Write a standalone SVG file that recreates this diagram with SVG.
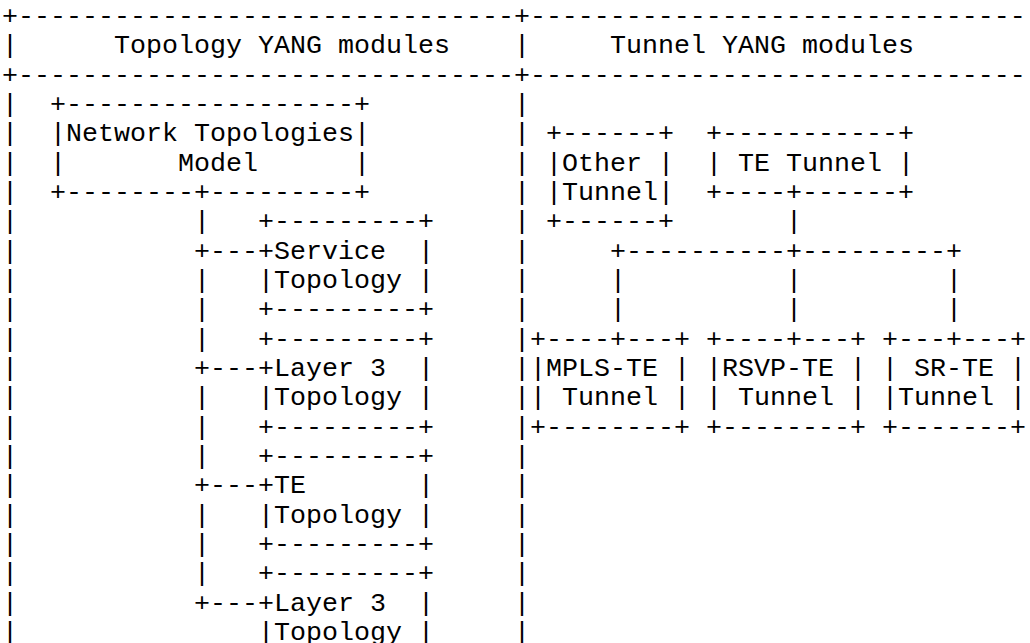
<svg xmlns="http://www.w3.org/2000/svg" width="1030" height="643" viewBox="0 0 1030 643" xml:space="preserve">
<style>
text{font-family:"Liberation Mono","Courier New",monospace;font-size:26.664px;fill:#000;white-space:pre;}
</style>
<rect x="0" y="0" width="1030" height="643" fill="#fff"/>
<g id="frame">
<text x="2" y="24">+-------------------------------+-------------------------------</text>
<text x="2" y="53.33">|</text>
<text x="514" y="53.33">|</text>
<text x="114" y="53.33">Topology YANG modules</text>
<text x="610" y="53.33">Tunnel YANG modules</text>
<text x="2" y="82.67">+-------------------------------+-------------------------------</text>
<text><tspan x="2" y="112">|</tspan><tspan x="2" y="141.33">|</tspan><tspan x="2" y="170.67">|</tspan><tspan x="2" y="200">|</tspan><tspan x="2" y="229.33">|</tspan><tspan x="2" y="258.67">|</tspan><tspan x="2" y="288">|</tspan><tspan x="2" y="317.33">|</tspan><tspan x="2" y="346.67">|</tspan><tspan x="2" y="376">|</tspan><tspan x="2" y="405.33">|</tspan><tspan x="2" y="434.67">|</tspan><tspan x="2" y="464">|</tspan><tspan x="2" y="493.33">|</tspan><tspan x="2" y="522.67">|</tspan><tspan x="2" y="552">|</tspan><tspan x="2" y="581.33">|</tspan><tspan x="2" y="610.67">|</tspan><tspan x="2" y="640">|</tspan></text>
<text><tspan x="514" y="112">|</tspan><tspan x="514" y="141.33">|</tspan><tspan x="514" y="170.67">|</tspan><tspan x="514" y="200">|</tspan><tspan x="514" y="229.33">|</tspan><tspan x="514" y="258.67">|</tspan><tspan x="514" y="288">|</tspan><tspan x="514" y="317.33">|</tspan><tspan x="514" y="346.67">|</tspan><tspan x="514" y="376">|</tspan><tspan x="514" y="405.33">|</tspan><tspan x="514" y="434.67">|</tspan><tspan x="514" y="464">|</tspan><tspan x="514" y="493.33">|</tspan><tspan x="514" y="522.67">|</tspan><tspan x="514" y="552">|</tspan><tspan x="514" y="581.33">|</tspan><tspan x="514" y="610.67">|</tspan><tspan x="514" y="640">|</tspan></text>
</g>
<g id="connectors">
<text><tspan x="194" y="229.33">|</tspan><tspan x="194" y="258.67">+---</tspan><tspan x="194" y="288">|</tspan><tspan x="194" y="317.33">|</tspan><tspan x="194" y="346.67">|</tspan><tspan x="194" y="376">+---</tspan><tspan x="194" y="405.33">|</tspan><tspan x="194" y="434.67">|</tspan><tspan x="194" y="464">|</tspan><tspan x="194" y="493.33">+---</tspan><tspan x="194" y="522.67">|</tspan><tspan x="194" y="552">|</tspan><tspan x="194" y="581.33">|</tspan><tspan x="194" y="610.67">+---</tspan></text>
<text><tspan x="786" y="229.33">|</tspan><tspan x="610" y="258.67">+----------+---------+</tspan><tspan x="610" y="288">|</tspan><tspan x="786" y="288">|</tspan><tspan x="946" y="288">|</tspan><tspan x="610" y="317.33">|</tspan><tspan x="786" y="317.33">|</tspan><tspan x="946" y="317.33">|</tspan></text>
</g>
<g id="node-network-topologies">
<text x="50" y="112">+------------------+</text>
<text x="50" y="141.33">|Network Topologies|</text>
<text x="50" y="170.67">|       Model      |</text>
<text x="50" y="200">+--------+---------+</text>
</g>
<g id="node-service-topology">
<text x="258" y="229.33">+---------+</text>
<text x="258" y="258.67">+Service  |</text>
<text x="258" y="288">|Topology |</text>
<text x="258" y="317.33">+---------+</text>
</g>
<g id="node-layer3-topology-1">
<text x="258" y="346.67">+---------+</text>
<text x="258" y="376">+Layer 3  |</text>
<text x="258" y="405.33">|Topology |</text>
<text x="258" y="434.67">+---------+</text>
</g>
<g id="node-te-topology">
<text x="258" y="464">+---------+</text>
<text x="258" y="493.33">+TE       |</text>
<text x="258" y="522.67">|Topology |</text>
<text x="258" y="552">+---------+</text>
</g>
<g id="node-layer3-topology-2">
<text x="258" y="581.33">+---------+</text>
<text x="258" y="610.67">+Layer 3  |</text>
<text x="258" y="640">|Topology |</text>
</g>
<g id="node-other-tunnel">
<text x="546" y="141.33">+------+</text>
<text x="546" y="170.67">|Other |</text>
<text x="546" y="200">|Tunnel|</text>
<text x="546" y="229.33">+------+</text>
</g>
<g id="node-te-tunnel">
<text x="706" y="141.33">+-----------+</text>
<text x="706" y="170.67">| TE Tunnel |</text>
<text x="706" y="200">+----+------+</text>
</g>
<g id="node-mpls-te-tunnel">
<text x="530" y="346.67">+----+---+</text>
<text x="530" y="376">|MPLS-TE |</text>
<text x="530" y="405.33">| Tunnel |</text>
<text x="530" y="434.67">+--------+</text>
</g>
<g id="node-rsvp-te-tunnel">
<text x="706" y="346.67">+----+---+</text>
<text x="706" y="376">|RSVP-TE |</text>
<text x="706" y="405.33">| Tunnel |</text>
<text x="706" y="434.67">+--------+</text>
</g>
<g id="node-sr-te-tunnel">
<text x="882" y="346.67">+---+---+</text>
<text x="882" y="376">| SR-TE |</text>
<text x="882" y="405.33">|Tunnel |</text>
<text x="882" y="434.67">+-------+</text>
</g>
</svg>
